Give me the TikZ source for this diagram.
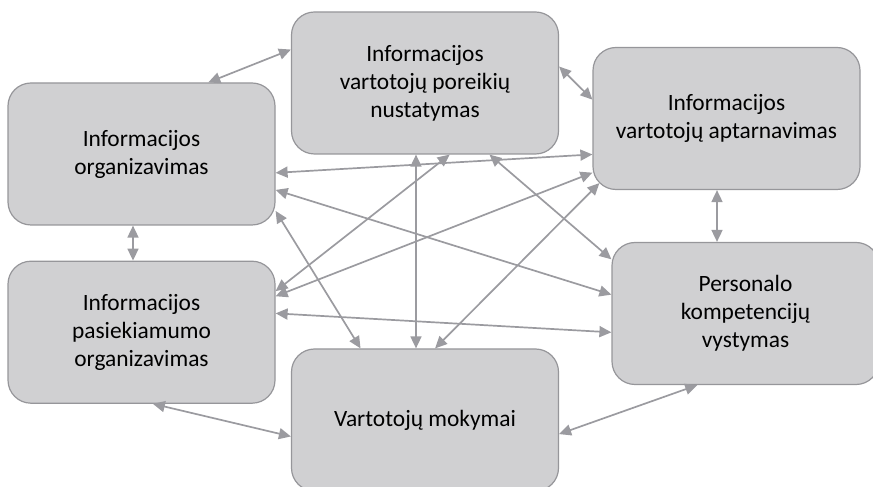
\documentclass[tikz,border=0pt]{standalone}
\usepackage{fontspec}
\setmainfont{Carlito}
\usetikzlibrary{arrows.meta,positioning}
\definecolor{boxfill}{RGB}{208,208,210}
\definecolor{boxline}{RGB}{150,150,154}
\definecolor{linkgray}{RGB}{155,155,160}

\begin{document}
\begin{tikzpicture}[x=1pt,y=1pt,
  box/.style={rectangle,rounded corners=23pt,draw=boxline,fill=boxfill,line width=1.2pt,minimum width=267pt,minimum height=142pt,inner sep=0pt,align=center,font=\fontsize{23.4}{28}\selectfont},
  link/.style={draw=linkgray,line width=1.7pt,{Triangle[length=12pt,width=11pt]}-{Triangle[length=12pt,width=11pt]}}]

\useasboundingbox (0,0) rectangle (873,487);

\node[box] (org) at (141.5,333) {Informacijos\\organizavimas};
\node[box] (need) at (425,404) {Informacijos\\vartotojų poreikių\\nustatymas};
\node[box] (serv) at (726.5,368.5) {Informacijos\\vartotojų aptarnavimas};
\node[box,below=35pt of org] (access) {Informacijos\\pasiekiamumo\\organizavimas};
\node[box] (train) at (425,67) {Vartotojų mokymai};
\node[box] (staff) at (745.5,173.5) {Personalo\\kompetencijų\\vystymas};

\draw[link] (org.47) -- (need.166);
\draw[link] (need.7) -- (serv.172);
\draw[link] (org.-8) -- (serv.-165);
\draw[link] (org.-15) -- (staff.172);
\draw[link] (org.-23) -- (train.132);
\draw[link] ([xshift=-8.5pt]org.south) -- ([xshift=-8.5pt]access.north);
\draw[link] (need.-71) -- (access.17);
\draw[link] ([xshift=-9pt]need.south) -- ([xshift=-9pt]train.north);
\draw[link] (need.-48) -- (staff.158);
\draw[link] (serv.-158) -- (access.15);
\draw[link] ([shift={(7pt,7pt)}]serv.south west) -- (train.82);
\draw[link] ([xshift=-9.5pt]serv.south) -- ([xshift=-28.5pt]staff.north);
\draw[link] (access.8) -- (staff.-172);
\draw[link] (access.-81) -- (train.-173);
\draw[link] (train.-6) -- (staff.-124);

\end{tikzpicture}
\end{document}
